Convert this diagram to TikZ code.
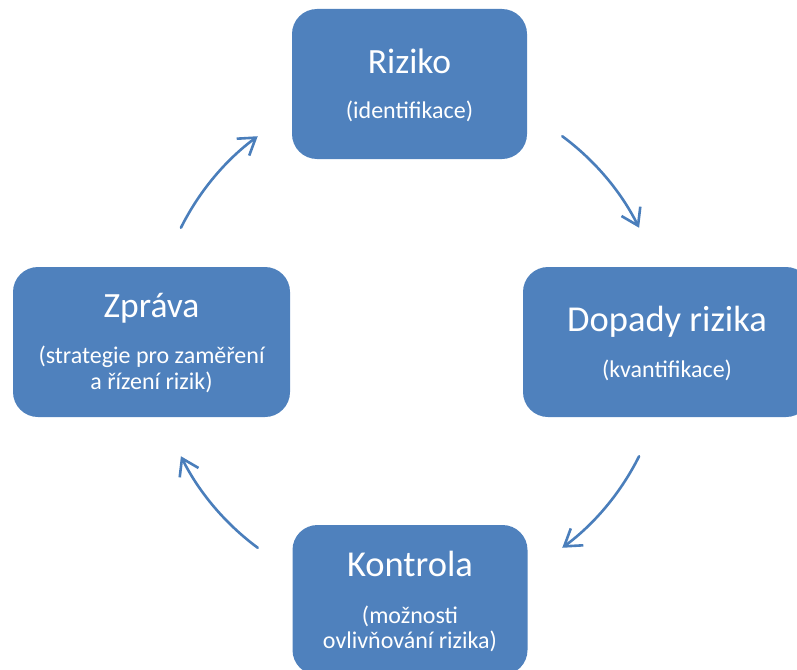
\documentclass[tikz,border=0pt]{standalone}
\usepackage{fontspec}
\setmainfont{Carlito}
\usetikzlibrary{arrows.meta,calc}

\definecolor{boxblue}{HTML}{4F81BD}
\definecolor{arrowblue}{HTML}{4A7EBB}

\tikzset{
  stagebox/.style={draw=none, fill=boxblue, rounded corners=25pt,
    inner sep=0pt, minimum height=150pt},
  titletext/.style={text=white, inner sep=0pt, anchor=base,
    font=\fontsize{35.5}{35.5}\selectfont},
  bigtitletext/.style={titletext, font=\fontsize{36.5}{36.5}\selectfont},
  subtext/.style={text=white, inner sep=0pt, anchor=base,
    font=\fontsize{24}{24}\selectfont},
  cyclearrow/.style={draw=arrowblue, line width=2.6pt, line cap=round,
    -{Straight Barb[length=16pt, width=21pt, line width=2.6pt]}}
}

\begin{document}
\begin{tikzpicture}[x=1pt, y=-1pt]
  \path[use as bounding box, clip] (0,0) rectangle (797,669);

  % the four stages of the cycle
  \node[stagebox, minimum width=235pt] (riziko) at (409.5,84) {};
  \node[stagebox, minimum width=288pt] (dopady) at (667,342) {};
  \node[stagebox, minimum width=235pt] (kontrola) at (410,600) {};
  \node[stagebox, minimum width=277pt] (zprava) at (151.5,342) {};

  % stage texts
  \node[titletext] (riziko-t) at (409.5,74) {Riziko};
  \node[subtext] (riziko-s) at (409.5,118) {(identifikace)};

  \node[bigtitletext] (dopady-t) at (667,331) {Dopady rizika};
  \node[subtext] (dopady-s) at (667,377) {(kvantifikace)};

  \node[bigtitletext] (kontrola-t) at (410,576) {Kontrola};
  \node[subtext] (kontrola-s1) at (410,623) {(možnosti};
  \node[subtext] (kontrola-s2) at (410,648) {ovlivňování rizika)};

  \node[titletext] (zprava-t) at (151.5,317) {Zpráva};
  \node[subtext] (zprava-s1) at (151.5,363) {(strategie pro zaměření};
  \node[subtext] (zprava-s2) at (151.5,389) {a řízení rizik)};

  % clockwise arrows on a circle round the middle of the cycle
  \coordinate (mid) at (410,342);
  \coordinate (a1) at ($(mid)+(-53.5:256)$);
  \coordinate (a2) at ($(mid)+(26.5:256)$);
  \coordinate (a3) at ($(mid)+(126.5:256)$);
  \coordinate (a4) at ($(mid)+(206.5:256)$);

  \draw[cyclearrow] (a1) arc[start angle=-53.5, end angle=-26.5, radius=256];
  \draw[cyclearrow] (a2) arc[start angle=26.5, end angle=53.5, radius=256];
  \draw[cyclearrow] (a3) arc[start angle=126.5, end angle=153.5, radius=256];
  \draw[cyclearrow] (a4) arc[start angle=206.5, end angle=233.5, radius=256];
\end{tikzpicture}
\end{document}
